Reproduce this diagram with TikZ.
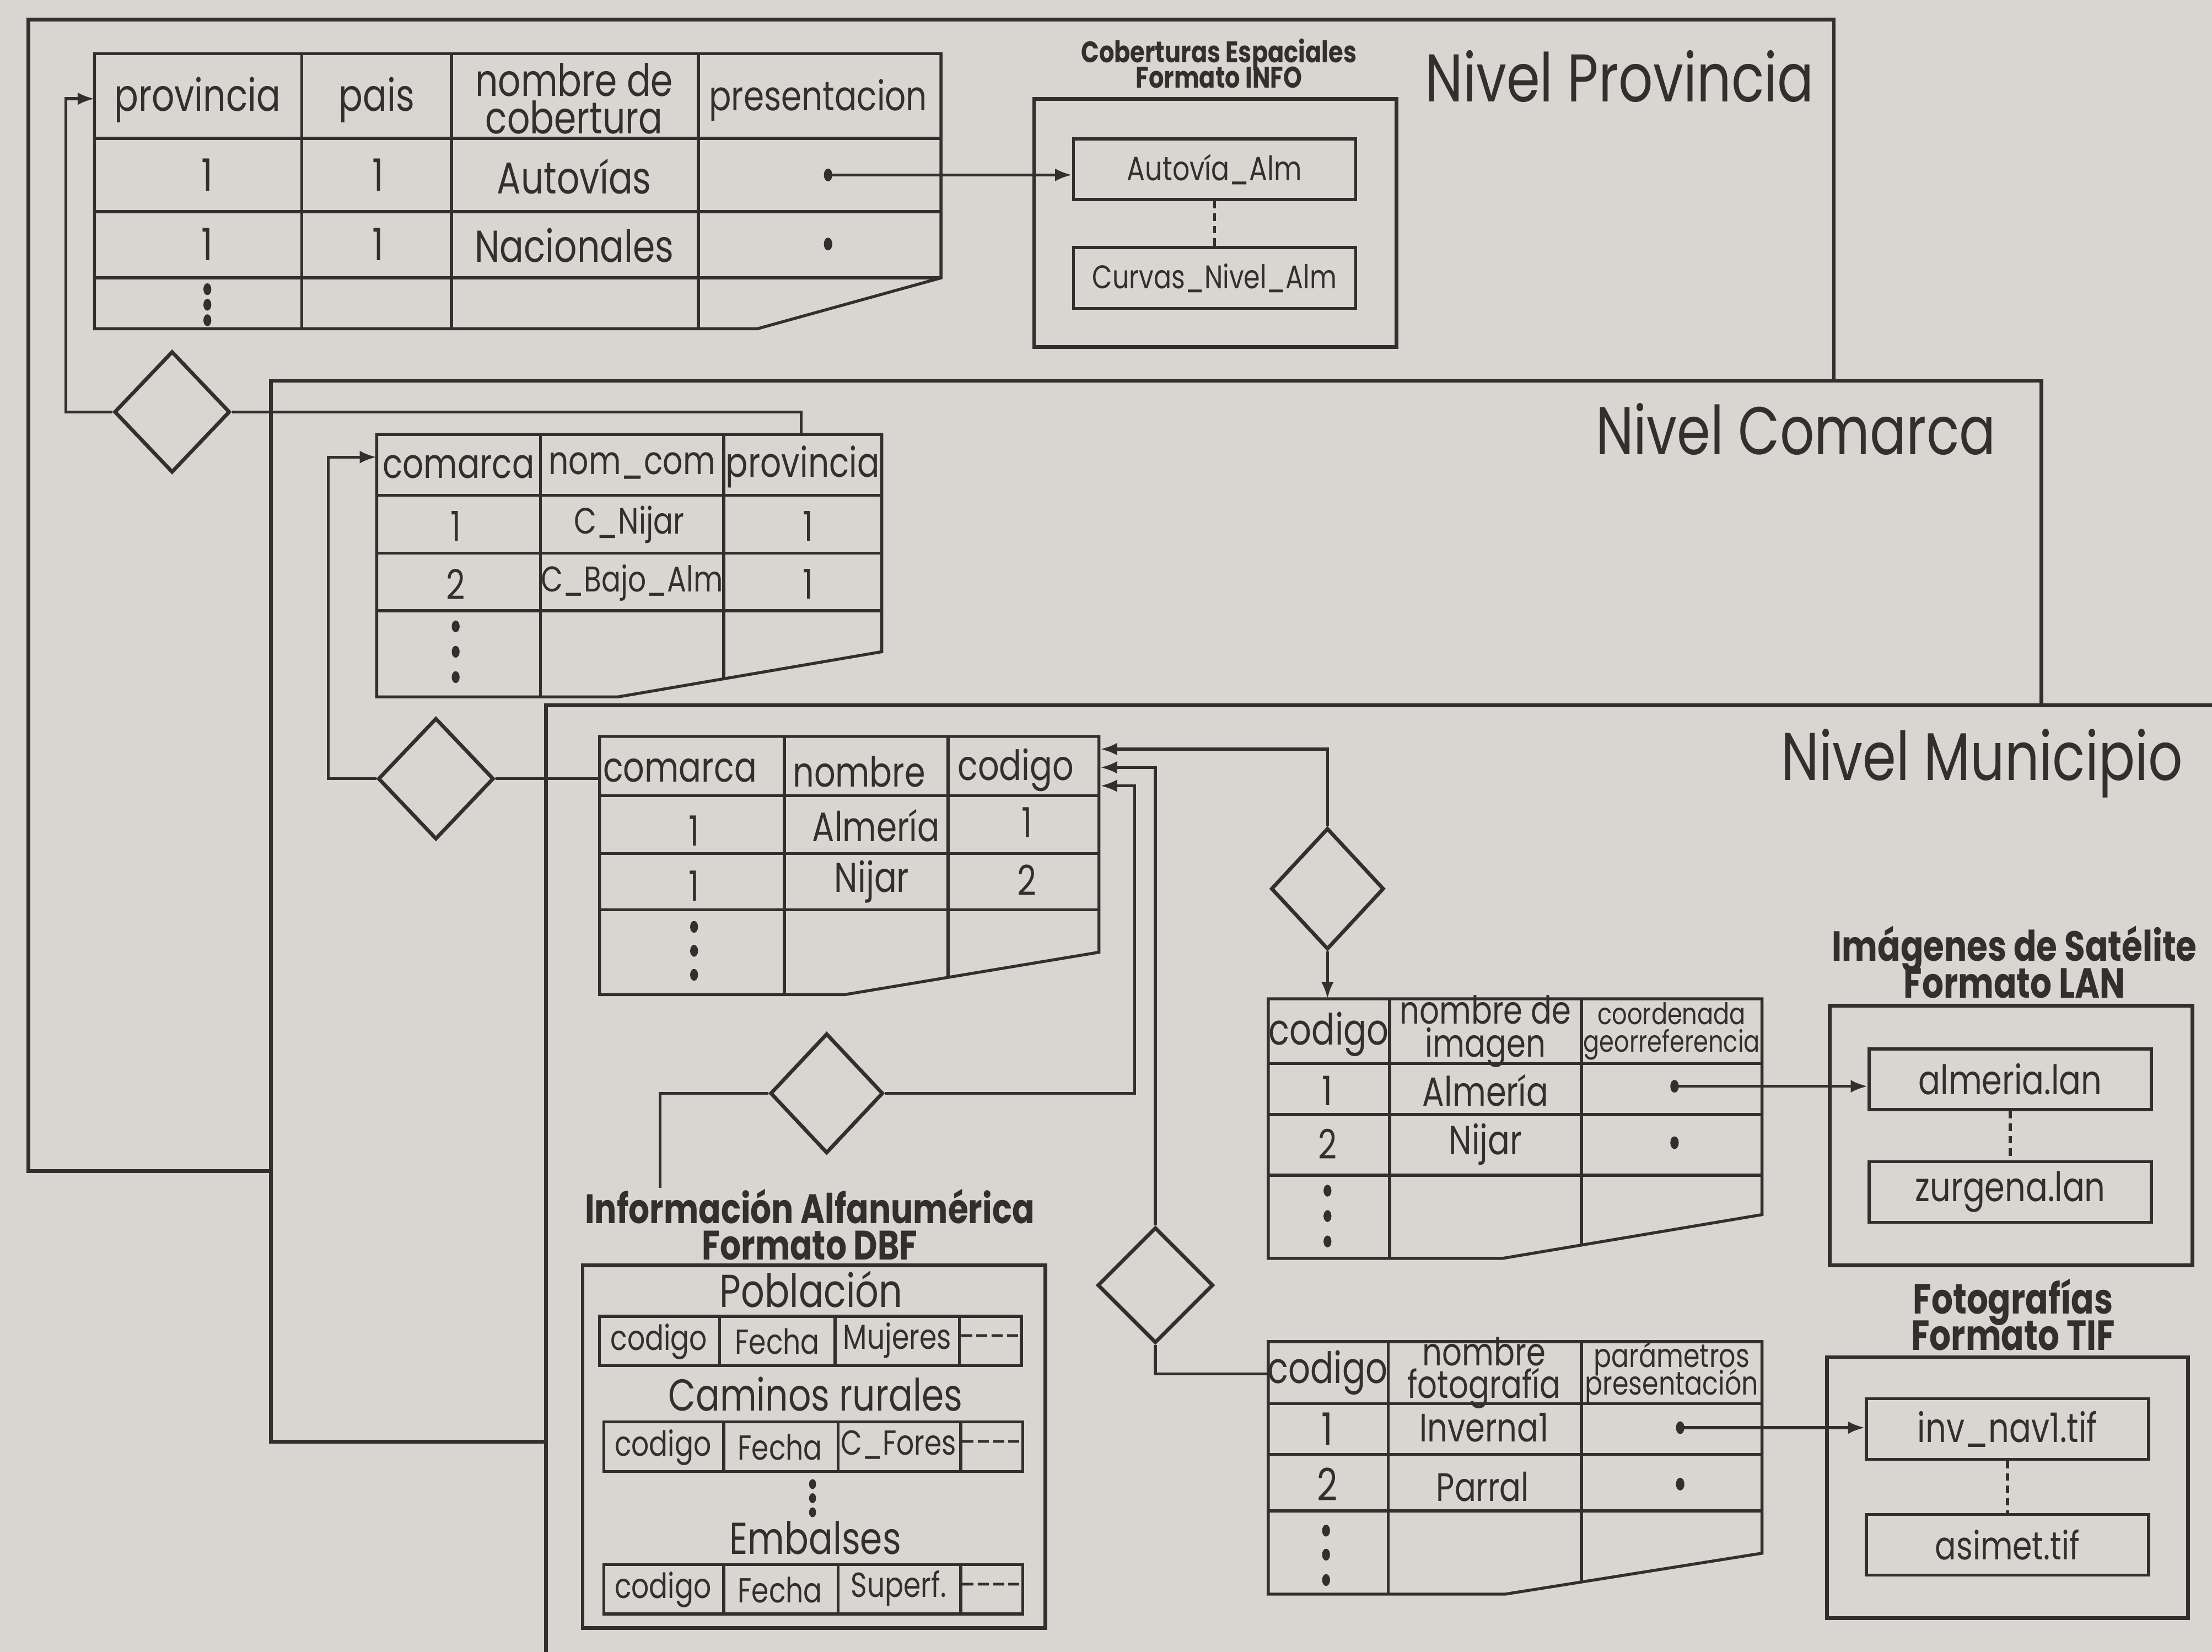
\documentclass[tikz,border=0pt]{standalone}
\usepackage{fontspec}
\setmainfont[FakeStretch=0.8]{Poppins}
\usetikzlibrary{arrows.meta, shapes.geometric}
\definecolor{papel}{RGB}{217,214,209}
\definecolor{tinta}{RGB}{50,48,46}
\newcommand{\apretado}{\lineskiplimit-20pt\relax}

\begin{document}
\begin{tikzpicture}[x=0.1mm, y=-0.1mm,
    marco/.style={draw=tinta, line width=0.75pt, fill=papel},
    linea/.style={draw=tinta, line width=0.6pt},
    rel/.style={diamond, draw=tinta, line width=0.75pt, minimum width=8.2mm,
      minimum height=8.6mm, inner sep=0pt},
    arch/.style={rectangle, draw=tinta, line width=0.6pt, minimum width=20mm,
      minimum height=4.3mm, inner sep=0pt, text=tinta, font=\fontsize{#1}{8}\selectfont},
    arch/.default=8.2,
    arr/.style={-{Latex[length=1.2mm, width=0.9mm]}, line width=0.6pt, draw=tinta},
    punto/.style={ellipse, fill=tinta, inner sep=0pt, minimum width=0.6mm, minimum height=0.9mm},
    nivel/.style={text=tinta, font=\fontsize{13.6}{14}\selectfont, inner sep=0pt, anchor=base},
    tit/.style={text=tinta, font=\bfseries\fontsize{#1}{7.4}\selectfont\apretado,
      align=center, inner sep=0pt},
    tit/.default=8.5,
    cel/.style={text=tinta, font=\fontsize{#1}{7.5}\selectfont, align=center, inner sep=0pt},
    cel/.default=9,
    mini/.style={text=tinta, font=\fontsize{#1}{5.6}\selectfont\apretado, align=center, inner sep=0pt},
    mini/.default=6,
    campo/.style={text=tinta, font=\fontsize{7}{7}\selectfont, inner sep=0pt}]

  % fondo y marcos de nivel
  \fill[papel] (0,0) rectangle (1568,1171);
  \useasboundingbox (0,0) rectangle (1568,1171);
  \draw[marco] (20,14) rectangle (1300,830);
  \draw[marco] (192,270) rectangle (1447,1022);
  \fill[papel] (387,500) rectangle (1568,1171);
  \draw[linea, line width=0.75pt] (1568,500) -- (387,500) -- (387,1171);
  \node[nivel] (nP) at (1148,72) {Nivel Provincia};
  \node[nivel] (nC) at (1273,322) {Nivel Comarca};
  \node[nivel] (nM) at (1405,553) {Nivel Municipio};

  % tabla provincia
  \draw[linea] (67,38) -- (667,38) -- (667,197) -- (537,233) -- (67,233) -- cycle;
  \draw[linea] (67,98) -- (667,98) (67,150) -- (667,150) (67,197) -- (667,197);
  \draw[linea] (214,38) -- (214,233) (320,38) -- (320,233) (495,38) -- (495,233);
  \node[cel] (ph1) at (140,71) {provincia};
  \node[cel] (ph2) at (267,71) {pais};
  \node[cel] (ph3) at (407,70) {nombre de\\cobertura};
  \node[cel=8.3] (ph4) at (580,71) {presentacion};
  \node[cel] (p11) at (147,124) {1};
  \node[cel] (p12) at (268,124) {1};
  \node[cel] (p13) at (407,125) {Autovías};
  \node[punto] (pd1) at (587,124) {};
  \node[cel] (p21) at (147,173) {1};
  \node[cel] (p22) at (268,173) {1};
  \node[cel] (p23) at (407,174) {Nacionales};
  \node[punto] (pd2) at (587,173) {};
  \foreach \y in {205,216,227} \fill[tinta] (147,\y) ellipse [x radius=0.28mm, y radius=0.42mm];
  \coordinate (pin) at (67,70);

  % coberturas INFO
  \node[tit, font=\bfseries\fontsize{6}{5.2}\selectfont\apretado] (cob) at (864,45) {Coberturas Espaciales\\Formato INFO};
  \draw[linea, line width=0.75pt] (733,70) rectangle (990,246);
  \node[arch=6.8] (autov) at (861,120) {Autovía\_Alm};
  \node[arch=6.6] (curv) at (861,197) {Curvas\_Nivel\_Alm};
  \draw[linea, dash pattern=on 1.5pt off 1pt] (autov) -- (curv);
  \draw[arr] (pd1.center) -- (pd1 -| autov.west);

  % relacion provincia - comarca
  \node[rel] (r1) at (122,292) {};
  \coordinate (cin) at (568,308);
  \draw[arr] (r1.west) -- ++(-33,0) |- (pin);
  \draw[linea] (r1.east) -| (cin);

  % tabla comarca
  \draw[linea] (267,308) -- (625,308) -- (625,462) -- (438,494) -- (267,494) -- cycle;
  \draw[linea] (267,351) -- (625,351) (267,392) -- (625,392) (267,433) -- (625,433);
  \draw[linea] (383,308) -- (383,494) (513,308) -- (513,481);
  \node[cel=8.3] (ch1) at (325,331) {comarca};
  \node[cel=7.9] (ch2) at (448,330) {nom\_com};
  \node[cel=8.3] (ch3) at (569,331) {provincia};
  \node[cel=8.3] (c11) at (323,373) {1};
  \node[cel=7.4] (c12) at (446,372) {C\_Nijar};
  \node[cel=8.3] (c13) at (573,373) {1};
  \node[cel=8.3] (c21) at (323,414) {2};
  \node[cel=7.2] (c22) at (448,413) {C\_Bajo\_Alm};
  \node[cel=8.3] (c23) at (573,414) {1};
  \foreach \y in {444,462,480} \fill[tinta] (323,\y) ellipse [x radius=0.28mm, y radius=0.42mm];
  \coordinate (chd) at (267,324);

  % relacion comarca - municipio
  \node[rel] (r2) at (309,552) {};
  \coordinate (mhd) at (425,552);
  \draw[arr] (r2.west) -- ++(-34,0) |- (chd);
  \draw[linea] (r2.east) -- (mhd);

  % tabla municipio
  \draw[linea] (425,522) -- (779,522) -- (779,675) -- (599,705) -- (425,705) -- cycle;
  \draw[linea] (425,564) -- (779,564) (425,605) -- (779,605) (425,645) -- (779,645);
  \draw[linea] (556,522) -- (556,705) (672,522) -- (672,693);
  \node[cel=8.4] (mh1) at (482,546) {comarca};
  \node[cel=8.4] (mh2) at (609,547) {nombre};
  \node[cel=8.4] (mh3) at (720,546) {codigo};
  \node[cel=8.4] (m11) at (492,589) {1};
  \node[cel=8.3] (m12) at (621,585) {Almería};
  \node[cel=8.4] (m13) at (728,583) {1};
  \node[cel=8.4] (m21) at (492,628) {1};
  \node[cel=8.4] (m22) at (618,625) {Nijar};
  \node[cel=8.4] (m23) at (728,624) {2};
  \foreach \y in {657,674,691} \fill[tinta] (492,\y) ellipse [x radius=0.28mm, y radius=0.42mm];
  \coordinate (ma1) at (780,531);
  \coordinate (ma2) at (780,544);
  \coordinate (ma3) at (780,557);

  % relaciones municipio
  \node[rel, minimum width=8mm] (r3) at (941,630) {};
  \node[rel, minimum height=8.2mm] (r5) at (819,911) {};
  \node[rel, minimum width=8mm, minimum height=8.5mm] (r4) at (586,775) {};
  \coordinate (itop) at (941,708);
  \coordinate (fin) at (899,974);
  \coordinate (dbfin) at (468,842);
  \draw[arr] (r3.north) |- (ma1);
  \draw[arr] (r3.south) -- (itop);
  \draw[arr] (r5.north) |- (ma2);
  \draw[linea] (r5.south) |- (fin);
  \draw[arr] (r4.east) -- ++(177,0) |- (ma3);
  \draw[linea] (r4.west) -| (dbfin);

  % tabla imagenes
  \draw[linea] (899,708) -- (1249,708) -- (1249,861) -- (1065,892) -- (899,892) -- cycle;
  \draw[linea] (899,754) -- (1249,754) (899,790) -- (1249,790) (899,833) -- (1249,833);
  \draw[linea] (985,708) -- (985,892) (1121,708) -- (1121,883);
  \node[cel=8.7] (ih1) at (942,733) {codigo};
  \node[cel=7.8, font=\fontsize{7.8}{6.6}\selectfont\apretado] (ih2) at (1053,731) {nombre de\\imagen};
  \node[mini] (ih3) at (1185,731) {coordenada\\georreferencia};
  \node[cel=8.2] (i11) at (941,773) {1};
  \node[cel=8.2] (i12) at (1053,773) {Almería};
  \node[punto] (id1) at (1187,770) {};
  \node[cel=8.2] (i21) at (941,811) {2};
  \node[cel=8.2] (i22) at (1053,811) {Nijar};
  \node[punto] (id2) at (1187,810) {};
  \foreach \y in {844,862,880} \fill[tinta] (941,\y) ellipse [x radius=0.28mm, y radius=0.42mm];

  % imagenes LAN
  \node[tit] (lant) at (1428,682) {Imágenes de Satélite\\Formato LAN};
  \draw[linea, line width=0.75pt] (1297,713) rectangle (1554,897);
  \node[arch] (alm) at (1425,765) {almeria.lan};
  \node[arch] (zur) at (1425,845) {zurgena.lan};
  \draw[linea, dash pattern=on 1.5pt off 1pt] (alm) -- (zur);
  \draw[arr] (id1.center) -- (id1 -| alm.west);

  % tabla fotografias
  \draw[linea] (899,951) -- (1249,951) -- (1249,1101) -- (1067,1130) -- (899,1130) -- cycle;
  \draw[linea] (899,995) -- (1249,995) (899,1031) -- (1249,1031) (899,1071) -- (1249,1071);
  \draw[linea] (984,951) -- (984,1130) (1121,951) -- (1121,1121);
  \node[cel=8.7] (fh1) at (941,973) {codigo};
  \node[cel=7.8, font=\fontsize{7.8}{6.6}\selectfont\apretado] (fh2) at (1052,973) {nombre\\fotografía};
  \node[mini=6.6] (fh3) at (1185,973) {parámetros\\presentación};
  \node[cel] (f11) at (941,1013) {1};
  \node[cel=8] (f12) at (1052,1012) {Inverna1};
  \node[punto] (fd1) at (1191,1012) {};
  \node[cel] (f21) at (941,1052) {2};
  \node[cel=8] (f22) at (1051,1054) {Parral};
  \node[punto] (fd2) at (1191,1052) {};
  \foreach \y in {1085,1102,1120} \fill[tinta] (940,\y) ellipse [x radius=0.28mm, y radius=0.42mm];

  % fotografias TIF
  \node[tit] (tift) at (1427,932) {Fotografías\\Formato TIF};
  \draw[linea, line width=0.75pt] (1295,962) rectangle (1551,1147);
  \node[arch] (inv) at (1423,1013) {inv\_nav1.tif};
  \node[arch=7.9] (asi) at (1423,1095) {asimet.tif};
  \draw[linea, dash pattern=on 1.5pt off 1pt] (inv) -- (asi);
  \draw[arr] (fd1.center) -- (fd1 -| inv.west);

  % informacion alfanumerica DBF
  \node[tit=8.3] (dbft) at (574,868) {Información Alfanumérica\\Formato DBF};
  \draw[linea, line width=0.75pt] (413,897) rectangle (741,1154);
  \node[cel=9.3] (pob) at (575,914) {Población};
  \node[cel] (cam) at (578,988) {Caminos rurales};
  \node[cel] (emb) at (578,1090) {Embalses};
  \draw[linea] (425,933) rectangle (724,968) (510,933) -- (510,968) (592,933) -- (592,968) (680,933) -- (680,968);
  \draw[linea] (428,1008) rectangle (725,1043) (513,1008) -- (513,1043) (594,1008) -- (594,1043) (681,1008) -- (681,1043);
  \draw[linea] (428,1109) rectangle (725,1144) (513,1109) -- (513,1144) (594,1109) -- (594,1144) (681,1109) -- (681,1144);
  \node[campo] (b11) at (467,951) {codigo};
  \node[campo] (b12) at (551,951) {Fecha};
  \node[campo] (b13) at (636,950) {Mujeres};
  \node[campo] (b14) at (702,951) {-{}-{}-{}-};
  \node[campo] (b21) at (470,1026) {codigo};
  \node[campo] (b22) at (553,1026) {Fecha};
  \node[campo] (b23) at (637,1024) {C\_Fores};
  \node[campo] (b24) at (703,1026) {-{}-{}-{}-};
  \node[campo] (b31) at (470,1127) {codigo};
  \node[campo] (b32) at (553,1127) {Fecha};
  \node[campo] (b33) at (637,1126) {Superf.};
  \node[campo] (b34) at (703,1127) {-{}-{}-{}-};
  \foreach \y in {1052,1062,1072} \fill[tinta] (576,\y) ellipse [x radius=0.25mm, y radius=0.35mm];
\end{tikzpicture}
\end{document}
